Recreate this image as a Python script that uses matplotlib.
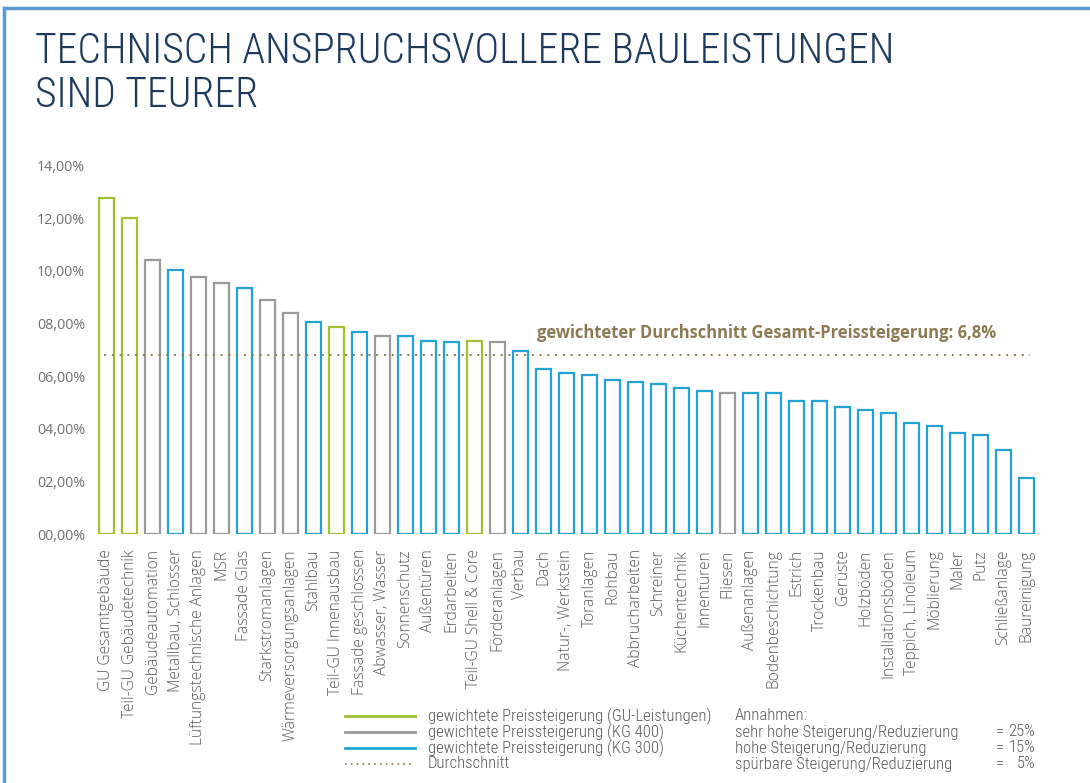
import matplotlib
matplotlib.use("Agg")
import matplotlib.pyplot as plt
from matplotlib.lines import Line2D

# ---------------- data ----------------
categories = [
    "GU Gesamtgebäude", "Teil-GU Gebäudetechnik", "Gebäudeautomation",
    "Metallbau, Schlosser", "Lüftungstechnische Anlagen", "MSR", "Fassade Glas",
    "Starkstromanlagen", "Wärmeversorgungsanlagen", "Stahlbau",
    "Teil-GU Innenausbau", "Fassade geschlossen", "Abwasser, Wasser",
    "Sonnenschutz", "Außentüren", "Erdarbeiten", "Teil-GU Shell & Core",
    "Förderanlagen", "Verbau", "Dach", "Natur-, Werkstein", "Toranlagen",
    "Rohbau", "Abbrucharbeiten", "Schreiner", "Küchentechnik", "Innentüren",
    "Fliesen", "Außenanlagen", "Bodenbeschichtung", "Estrich", "Trockenbau",
    "Gerüste", "Holzböden", "Installationsböden", "Teppich, Linoleum",
    "Möblierung", "Maler", "Putz", "Schließanlage", "Baureinigung",
]
values = [
    12.78, 12.00, 10.42, 10.05, 9.78, 9.56, 9.37, 8.90, 8.39, 8.07,
    7.86, 7.68, 7.54, 7.53, 7.34, 7.30, 7.33, 7.30, 6.95, 6.29,
    6.12, 6.03, 5.87, 5.78, 5.69, 5.54, 5.45, 5.35, 5.35, 5.35,
    5.07, 5.07, 4.83, 4.70, 4.61, 4.23, 4.12, 3.83, 3.75, 3.19, 2.14,
]
groups = [
    "GU", "GU", "KG400", "KG300", "KG400", "KG400", "KG300", "KG400", "KG400", "KG300",
    "GU", "KG300", "KG400", "KG300", "KG300", "KG300", "GU", "KG400", "KG300", "KG300",
    "KG300", "KG300", "KG300", "KG300", "KG300", "KG300", "KG300", "KG400", "KG300", "KG300",
    "KG300", "KG300", "KG300", "KG300", "KG300", "KG300", "KG300", "KG300", "KG300", "KG300", "KG300",
]
average = 6.8
y_ticks = [0, 2, 4, 6, 8, 10, 12, 14]
y_tick_labels = ["00,00%", "02,00%", "04,00%", "06,00%", "08,00%", "10,00%", "12,00%", "14,00%"]

legend_labels = [
    "gewichtete Preissteigerung (GU-Leistungen)",
    "gewichtete Preissteigerung (KG 400)",
    "gewichtete Preissteigerung (KG 300)",
    "Durchschnitt",
]
assumption_labels = [
    "Annahmen:",
    "sehr hohe Steigerung/Reduzierung",
    "hohe Steigerung/Reduzierung",
    "spürbare Steigerung/Reduzierung",
]
assumption_values = ["", "25%", "15%", "5%"]

# ---------------- style ----------------
colors = {"GU": "#a2c130", "KG400": "#9a9a9a", "KG300": "#22a3d6"}
avg_color = "#8c7b52"
title_color = "#1d3a5e"
text_grey = "#5a5a5a"
narrow = ["Roboto Condensed", "Liberation Sans Narrow", "Roboto", "DejaVu Sans"]

W, H = 1090, 783
fig = plt.figure(figsize=(W / 100, H / 100), dpi=100)
fig.patch.set_facecolor("white")
renderer = fig.canvas.get_renderer()


def fx(px):
    return px / W


def fy(py):
    return 1 - py / H


def fit_width(t, target_px):
    for _ in range(3):
        w = t.get_window_extent(renderer=renderer).width
        if w > 0:
            t.set_fontsize(t.get_fontsize() * target_px / w)


# frame (top + left border)
fig.add_artist(Line2D([fx(4), fx(4)], [fy(8), fy(783)], color="#5b9bd5", lw=2.5))
fig.add_artist(Line2D([fx(4), fx(1090)], [fy(8), fy(8)], color="#5b9bd5", lw=2.5))

# title
t1 = fig.text(fx(35), fy(63), "TECHNISCH ANSPRUCHSVOLLERE BAULEISTUNGEN", family=narrow,
              fontweight="light", fontsize=26, color=title_color, ha="left", va="baseline")
fit_width(t1, 860)
t2 = fig.text(fx(35), fy(107), "SIND TEURER", family=narrow, fontweight="light",
              fontsize=t1.get_fontsize(), color=title_color, ha="left", va="baseline")

# axes
ax_left, ax_right = 95, 1038
ax_top, ax_bottom = 165.8, 534
ax = fig.add_axes([fx(ax_left), fy(ax_bottom), (ax_right - ax_left) / W, (ax_bottom - ax_top) / H])
ax.set_facecolor("none")
x = list(range(len(categories)))
ax.bar(x, values, width=0.64, facecolor="white",
       edgecolor=[colors[g] for g in groups], linewidth=1.6)
ax.set_xlim(-0.5, len(categories) - 0.5)
ax.set_ylim(0, 14)
for s in ax.spines.values():
    s.set_visible(False)
ax.set_yticks(y_ticks)
ax.set_yticklabels(y_tick_labels, family=["Open Sans", "DejaVu Sans"], fontsize=10.3, color="#707070")
ax.set_xticks(x)
ax.set_xticklabels(categories, rotation=90, family=["Open Sans", "DejaVu Sans"],
                   fontsize=11.2, fontweight="light", color=text_grey, ha="center", va="top")
ax.tick_params(axis="both", length=0)
ax.tick_params(axis="x", pad=11)
ax.tick_params(axis="y", pad=7)

ax.hlines(average, x[0] - 0.1, x[-1] + 0.15, colors=avg_color, linestyles=(0, (1, 3)), linewidth=1.4)
ann = ax.text(18.7, average + 0.85,
              "gewichteter Durchschnitt Gesamt-Preissteigerung: " + f"{average:.1f}".replace(".", ",") + "%",
              family=["Open Sans", "DejaVu Sans"], fontweight="bold", fontsize=12, color=avg_color,
              ha="left", va="center")
fit_width(ann, 462)

# legend
rows = [716, 732, 748, 764]
leg_styles = [(colors["GU"], "-"), (colors["KG400"], "-"), (colors["KG300"], "-"), (avg_color, (0, (1, 2.5)))]
leg_texts = []
for r, lab, (c, ls) in zip(rows, legend_labels, leg_styles):
    fig.add_artist(Line2D([fx(345), fx(415)], [fy(r), fy(r)], color=c, linestyle=ls,
                          lw=2.0 if ls == "-" else 1.2))
    leg_texts.append(fig.text(fx(428), fy(r), lab, family=narrow, fontweight="light", fontsize=10,
                              color=text_grey, ha="left", va="center"))
fit_width(leg_texts[0], 282)
leg_fs = leg_texts[0].get_fontsize()
for t in leg_texts:
    t.set_fontsize(leg_fs)

for r, lab, val in zip(rows, assumption_labels, assumption_values):
    fig.text(fx(735), fy(r), lab, family=narrow, fontweight="light", fontsize=leg_fs,
             color=text_grey, ha="left", va="center")
    if val:
        fig.text(fx(996), fy(r), "=", family=narrow, fontweight="light", fontsize=leg_fs,
                 color=text_grey, ha="left", va="center")
        fig.text(fx(1035), fy(r), val, family=narrow, fontweight="light", fontsize=leg_fs,
                 color=text_grey, ha="right", va="center")

fig.savefig("out.png", dpi=100, facecolor="white")
